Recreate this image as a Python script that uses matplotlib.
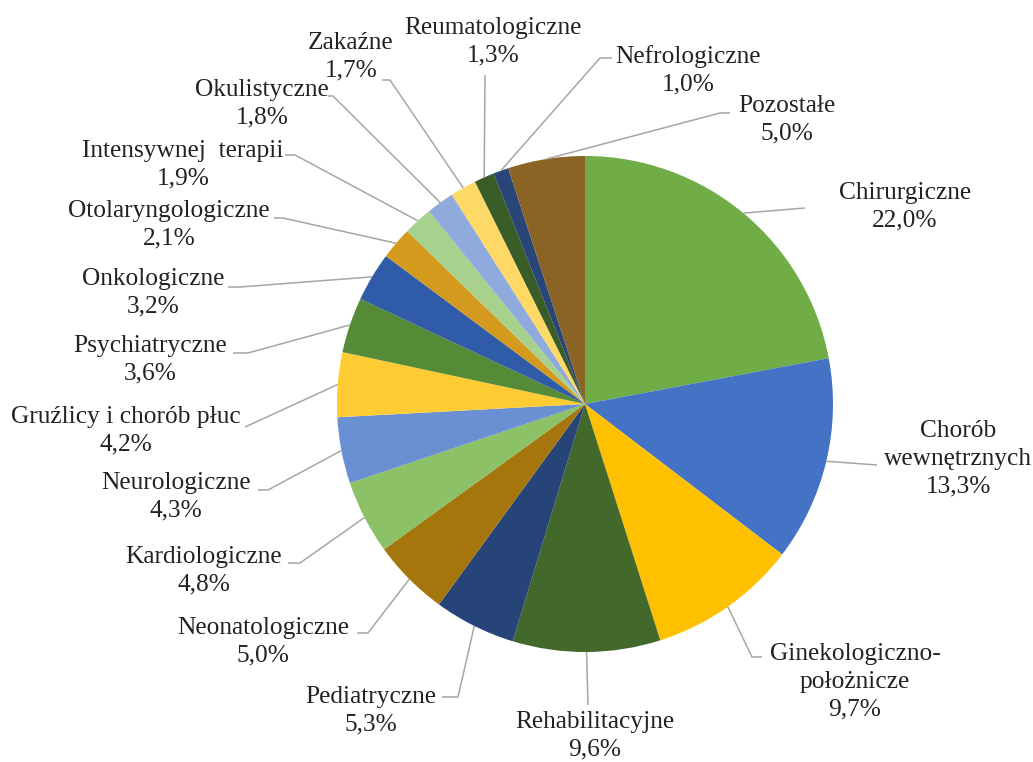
import numpy as np
import matplotlib.pyplot as plt

# share of beds by ward type (%)
labels = ["Chirurgiczne", "Chorób\nwewnętrznych", "Ginekologiczno-\npołożnicze",
          "Rehabilitacyjne", "Pediatryczne", "Neonatologiczne", "Kardiologiczne",
          "Neurologiczne", "Gruźlicy i chorób płuc", "Psychiatryczne", "Onkologiczne",
          "Otolaryngologiczne", "Intensywnej  terapii", "Okulistyczne", "Zakaźne",
          "Reumatologiczne", "Nefrologiczne", "Pozostałe"]
values = [22.0, 13.3, 9.7, 9.6, 5.3, 5.0, 4.8, 4.3, 4.2, 3.6, 3.2, 2.1, 1.9, 1.8,
          1.7, 1.3, 1.0, 5.0]

colors = ["#70AD47", "#4472C4", "#FFC000", "#43682B", "#264478", "#A5760C",
          "#8CC168", "#6A8FD2", "#FFCD33", "#558A36", "#2F5BA8", "#D49A1E",
          "#A9D18E", "#8FAADC", "#FFD966", "#3A5C27", "#2A4577", "#8A6425"]

# label block centres and leader-line bends (pixel coords of the layout)
label_pos = [(905, 207), (958, 459), (855, 682), (595, 736), (371, 711),
             (263, 642), (204, 571), (176, 497), (126, 431), (150, 360),
             (153, 293), (169, 225), (183, 165), (262, 104), (351, 57),
             (493, 42), (688, 70), (787, 120)]
leader_bends = [[(805, 208)], [(877, 465)], [(752, 657), (762, 657)], [(588, 705)],
                [(458, 697), (442, 697)], [(368, 633), (357, 633)],
                [(300, 563), (288, 563)], [(268, 490), (258, 490)], [(245, 427)],
                [(248, 353), (233, 353)], [(240, 287), (228, 287)],
                [(283, 218), (274, 218)], [(295, 155), (285, 155)],
                [(333, 96), (328, 96)], [(390, 80), (382, 80)], [(485, 75)],
                [(600, 58), (612, 58)], [(720, 113), (730, 113)]]

W, H = 1033, 762
cx, cy, R = 585, 404, 248

fig = plt.figure(figsize=(W / 100, H / 100), dpi=100)
ax = fig.add_axes([0, 0, 1, 1])

wedges, _ = ax.pie(values, colors=colors, center=(cx, cy), radius=R,
                   startangle=-90, counterclock=True,
                   wedgeprops=dict(linewidth=0))
ax.set_xlim(0, W)
ax.set_ylim(H, 0)
ax.axis("off")

for w, lab, val, pos, bends in zip(wedges, labels, values, label_pos, leader_bends):
    mid = np.deg2rad((w.theta1 + w.theta2) / 2)
    start = (cx + R * np.cos(mid), cy + R * np.sin(mid))
    pts = [start] + bends
    ax.plot([p[0] for p in pts], [p[1] for p in pts], color="#A6A6A6", lw=1.1,
            solid_capstyle="butt")
    txt = f"{lab}\n{val:.1f}%".replace(".", ",")
    ax.text(pos[0], pos[1], txt, ha="center", va="center", multialignment="center",
            fontsize=18.3, family="Liberation Serif", color="#222222", linespacing=1.33)

fig.savefig("out.png", dpi=100)
